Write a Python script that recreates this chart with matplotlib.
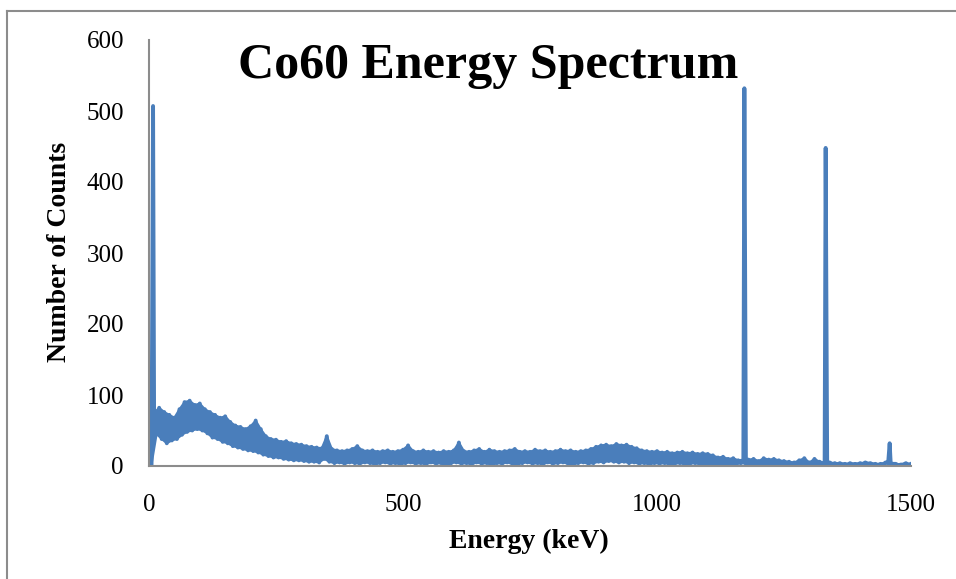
import numpy as np
import matplotlib.pyplot as plt
from matplotlib.lines import Line2D

# counts: upper edge of the noisy band at 0,10,20,... keV
band_top = [
    0, 75, 82, 76, 72, 68, 80, 90, 92, 86,         # 0-90
    88, 80, 76, 72, 68, 70, 62, 57, 55, 52,        # 100-190
    56, 64, 52, 42, 38, 37, 34, 35, 32, 31,        # 200-290
    30, 28, 27, 26, 25, 42, 24, 22, 21, 22,        # 300-390
    24, 28, 22, 21, 22, 20, 21, 22, 20, 21,        # 400-490
    23, 29, 21, 20, 22, 20, 21, 19, 21, 20,        # 500-590
    22, 33, 21, 20, 22, 24, 20, 23, 21, 20,        # 600-690
    21, 22, 24, 20, 21, 20, 23, 21, 22, 20,        # 700-790
    21, 23, 21, 22, 20, 21, 22, 24, 27, 29,        # 800-890
    30, 28, 31, 29, 30, 27, 25, 22, 21, 20,        # 900-990
    21, 19, 20, 18, 19, 20, 18, 19, 17, 18,        # 1000-1090
    17, 15, 12, 13, 10, 11, 8, 9, 9, 10,           # 1100-1190
    7, 11, 9, 10, 8, 7, 6, 5, 8, 11,               # 1200-1290
    5, 10, 6, 5, 5, 4, 4, 3, 4, 3,                 # 1300-1390
    4, 5, 4, 3, 3, 5, 4, 3, 2, 4,                  # 1400-1490
    3,                                             # 1500
]
# lower edge of the band at 5,15,25,... keV
band_bottom = [
    2, 45, 38, 32, 36, 38, 44, 48, 50, 52,         # 5-95
    50, 46, 40, 38, 34, 32, 28, 26, 24, 22,        # 105-195
    21, 19, 16, 14, 12, 12, 10, 9, 8, 8,           # 205-295
    7, 6, 6, 5, 10, 6, 4, 5, 3, 5,                 # 305-395
    4, 3, 5, 4, 2, 4, 5, 3, 4, 2,                  # 405-495
    4, 5, 3, 4, 2, 5, 3, 4, 0, 4,                  # 505-595
    5, 3, 4, 2, 5, 3, 4, 1, 4, 3,                  # 605-695
    5, 3, 2, 4, 5, 3, 4, 2, 5, 3,                  # 705-795
    4, 5, 3, 2, 4, 5, 3, 4, 6, 5,                  # 805-895
    7, 6, 5, 6, 4, 5, 3, 4, 2, 4,                  # 905-995
    3, 4, 2, 3, 4, 2, 3, 4, 2, 3,                  # 1005-1095
    2, 3, 1, 2, 3, 2, 4, 3, 1, 2,                  # 1105-1195
    0, 2, 1, 2, 1, 2, 1, 2, 1, 2,                  # 1205-1295
    1, 2, 3, 2, 2, 2, 2, 1, 2, 2,                  # 1305-1395
    2, 3, 2, 1, 2, 4, 3, 1, 2, 1,                  # 1405-1495
]
# narrow photopeaks
peak_kev = [8, 1172, 1332, 1458]
peak_counts = [507, 532, 448, 32]

top_e = 10 * np.arange(len(band_top))
bot_e = 10 * np.arange(len(band_bottom)) + 5
energy = np.concatenate([top_e, bot_e, peak_kev])
counts = np.concatenate([band_top, band_bottom, peak_counts])
order = np.argsort(energy, kind='stable')
energy = energy[order]
counts = counts[order]

blue = '#4A7EBB'
gray = '#8C8C8C'

fig = plt.figure(figsize=(9.56, 5.79), dpi=100)
ax = fig.add_axes([149/956, 1-466/579, (911-149)/956, (466-40)/579])

# solid band between the upper and lower edges, then the trace on top
poly_x = np.concatenate([top_e, bot_e[::-1]])
poly_y = np.concatenate([band_top, band_bottom[::-1]])
ax.fill(poly_x, poly_y, color=blue, lw=1.5)
ax.plot(energy, counts, color=blue, lw=2.8)

ax.set_xlim(0, 1500)
ax.set_ylim(0, 600)
ax.set_xticks([0, 500, 1000, 1500])
ax.set_yticks([0, 100, 200, 300, 400, 500, 600])
for s in ['top', 'right']:
    ax.spines[s].set_visible(False)
for s in ['left', 'bottom']:
    ax.spines[s].set_color(gray)
    ax.spines[s].set_linewidth(1.5)
ax.tick_params(length=0, labelsize=18, pad=0)
ax.tick_params(axis='x', pad=20)
ax.tick_params(axis='y', pad=18)
for lab in ax.get_xticklabels() + ax.get_yticklabels():
    lab.set_family('Liberation Serif')

fig.text(488/956, 1-66/579, 'Co60 Energy Spectrum', ha='center', va='center',
         fontsize=36, fontweight='bold', family='Liberation Serif')
fig.text(529/956, 1-541/579, 'Energy (keV)', ha='center', va='center',
         fontsize=20, fontweight='bold', family='Liberation Serif')
fig.text(60/956, 1-252/579, 'Number of Counts', ha='center', va='center',
         rotation=90, fontsize=20, fontweight='bold', family='Liberation Serif')

# outer frame of the chart area
fig.add_artist(Line2D([7/956, 1], [1-11/579, 1-11/579], color=gray, lw=1.5))
fig.add_artist(Line2D([7/956, 7/956], [0, 1-11/579], color=gray, lw=1.5))

fig.savefig('out.png', dpi=100)
